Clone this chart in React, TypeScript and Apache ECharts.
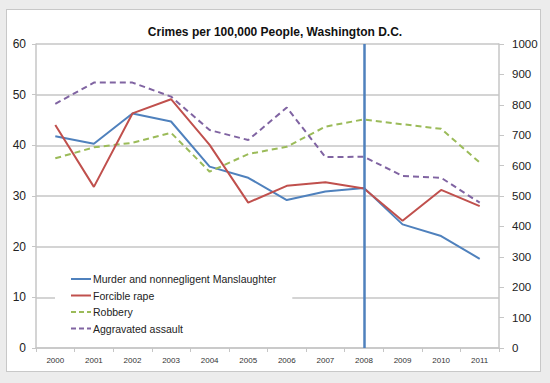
import React, { useEffect, useRef } from "react";
import * as echarts from "echarts";

const years = ["2000", "2001", "2002", "2003", "2004", "2005", "2006", "2007", "2008", "2009", "2010", "2011"];
const murder = [41.8, 40.3, 46.3, 44.7, 35.8, 33.6, 29.2, 30.9, 31.6, 24.4, 22.1, 17.6];
const rape = [44.0, 31.8, 46.3, 49.1, 40.1, 28.7, 32.0, 32.7, 31.5, 25.1, 31.2, 28.0];
const robbery = [624, 660, 675, 708, 580, 638, 662, 728, 752, 736, 721, 610];
const assault = [803, 873, 873, 827, 717, 684, 791, 628, 629, 566, 560, 478];
const seriesNames = [
  "Murder and nonnegligent Manslaughter",
  "Forcible rape",
  "Robbery",
  "Aggravated assault",
];
const markerYear = "2008";

const FONT = '"Liberation Sans", Arial, sans-serif';
const SOLID_ICON = "path://M0,0h20v2h-20z";
const DASH_ICON = "path://M0,0h5v2h-5z M8,0h5v2h-5z M16,0h4v2h-4z";

export default function App() {
  const ref = useRef<HTMLDivElement>(null);
  useEffect(() => {
    document.body.style.margin = "0";
    if (!ref.current) return;
    const chart = echarts.init(ref.current, undefined, { renderer: "svg" });
    const gridColor = "#c6c6c6";
    chart.setOption({
      animation: false,
      backgroundColor: "transparent",
      textStyle: { fontFamily: FONT },
      title: {
        text: "Crimes per 100,000 People, Washington D.C.",
        left: "center",
        top: 21,
        textStyle: { fontFamily: FONT, fontSize: 12, fontWeight: "bold", color: "#111" },
      },
      legend: {
        orient: "vertical",
        left: 55,
        top: 266,
        padding: [7, 16, 7, 16],
        backgroundColor: "#ffffff",
        itemWidth: 20,
        itemHeight: 2,
        itemGap: 4.5,
        data: [
          { name: seriesNames[0], icon: SOLID_ICON },
          { name: seriesNames[1], icon: SOLID_ICON },
          { name: seriesNames[2], icon: DASH_ICON },
          { name: seriesNames[3], icon: DASH_ICON },
        ],
        textStyle: { fontFamily: FONT, fontSize: 10.5, color: "#222", padding: [0, 0, 0, -3], lineHeight: 12 },
      },
      grid: { left: 36, right: 51, top: 44, bottom: 35, containLabel: false },
      xAxis: {
        type: "category",
        data: years,
        boundaryGap: true,
        axisLine: { show: true, lineStyle: { color: gridColor, width: 1.5 } },
        axisTick: { show: true, length: 4, alignWithLabel: false, lineStyle: { color: gridColor } },
        axisLabel: { fontSize: 8, color: "#333", margin: 8, fontFamily: FONT },
        splitLine: { show: false },
      },
      yAxis: [
        {
          type: "value",
          min: 0,
          max: 60,
          interval: 10,
          position: "left",
          axisLine: { show: true, lineStyle: { color: gridColor, width: 1.5 } },
          axisTick: { show: true, length: 4, lineStyle: { color: gridColor } },
          axisLabel: { fontSize: 12, color: "#222", margin: 10, fontFamily: FONT },
          splitLine: { show: true, lineStyle: { color: gridColor, width: 1.5 } },
        },
        {
          type: "value",
          min: 0,
          max: 1000,
          interval: 100,
          position: "right",
          axisLine: { show: true, lineStyle: { color: gridColor, width: 1.5 } },
          axisTick: { show: true, length: 5, lineStyle: { color: gridColor } },
          axisLabel: {
            fontSize: 11.5,
            color: "#222",
            margin: 13,
            fontFamily: FONT,
            formatter: (v: number) => String(v),
          },
          splitLine: { show: false },
        },
      ],
      series: [
        {
          name: seriesNames[0],
          type: "line",
          yAxisIndex: 0,
          data: murder,
          symbol: "none",
          z: 3,
          lineStyle: { color: "#4F81BD", width: 2 },
          itemStyle: { color: "#4F81BD" },
          markLine: {
            silent: true,
            symbol: ["none", "none"],
            label: { show: false },
            lineStyle: { color: "#4F81BD", width: 2.5, type: "solid" },
            data: [{ xAxis: markerYear }],
          },
        },
        {
          name: seriesNames[1],
          type: "line",
          yAxisIndex: 0,
          data: rape,
          symbol: "none",
          z: 4,
          lineStyle: { color: "#C0504D", width: 2 },
          itemStyle: { color: "#C0504D" },
        },
        {
          name: seriesNames[2],
          type: "line",
          yAxisIndex: 1,
          data: robbery,
          symbol: "none",
          lineStyle: { color: "#9BBB59", width: 2, type: [6, 4] },
          itemStyle: { color: "#9BBB59" },
        },
        {
          name: seriesNames[3],
          type: "line",
          yAxisIndex: 1,
          data: assault,
          symbol: "none",
          lineStyle: { color: "#8064A2", width: 2, type: [6, 4] },
          itemStyle: { color: "#8064A2" },
        },
      ],
    });
    return () => chart.dispose();
  }, []);

  return (
    <div style={{ position: "fixed", left: 0, top: 0, width: 550, height: 383, background: "#ececec", overflow: "hidden" }}>
      <div
        style={{
          position: "absolute",
          left: 6,
          top: 9,
          width: 533,
          height: 361,
          background: "#ffffff",
          border: "1.5px solid #c8c8c8",
        }}
      />
      <div ref={ref} style={{ position: "absolute", left: 0, top: 0, width: 550, height: 383 }} />
    </div>
  );
}
